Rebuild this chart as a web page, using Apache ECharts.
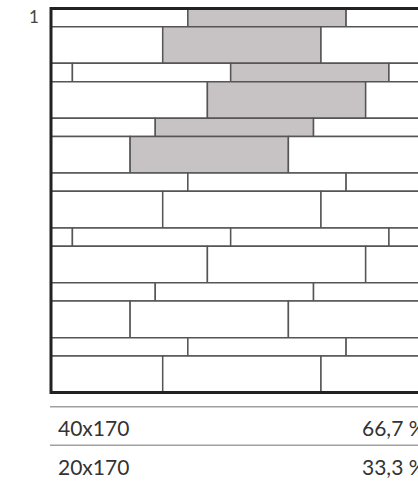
<!DOCTYPE html>
<html>
<head>
<meta charset="utf-8">
<script src="https://cdn.jsdelivr.net/npm/echarts@6/dist/echarts.min.js"></script>
<style>
  html, body { margin: 0; padding: 0; background: #fff; overflow: hidden; }
  #main { width: 460px; height: 483px; }
</style>
</head>
<body>
<div id="main"></div>
<script>
// laying pattern: row heights (mm) and joint positions along each row (mm)
var ROW_HEIGHTS = [20, 40, 20, 40, 20, 40, 20, 40, 20, 40, 20, 40, 20, 40];
var TILE_LENGTH = 170;
var ROW_JOINTS = [
  [147, 317], [120, 290], [23, 193, 363], [168, 338], [112, 282], [85, 255],
  [147, 317], [120, 290], [23, 193, 363], [168, 338], [112, 282], [85, 255],
  [147, 317], [120, 290]
];
// highlighted tiles: [row index, tile start]
var GREY_TILES = [[0, 147], [1, 120], [2, 193], [3, 168], [4, 112], [5, 85]];
var X_MAX = 420;
var PANEL_LABEL = '1';
var FORMATS = ['40x170', '20x170'];
var SHARES = [66.7, 33.3];

var FONT = 'Lato, "Noto Sans", sans-serif';
var totalHeight = ROW_HEIGHTS.reduce(function (a, b) { return a + b; }, 0);

// build the tile list from the rows
var tiles = [];
var y0 = 0;
ROW_HEIGHTS.forEach(function (h, r) {
  var joints = ROW_JOINTS[r];
  var edges = [joints[0] - TILE_LENGTH].concat(joints, [joints[joints.length - 1] + TILE_LENGTH]);
  for (var i = 0; i < edges.length - 1; i++) {
    var s = edges[i], e = edges[i + 1];
    if (e <= 0 || s >= X_MAX) continue;
    var grey = GREY_TILES.some(function (g) { return g[0] === r && g[1] === s; }) ? 1 : 0;
    tiles.push([Math.max(0, s), Math.min(X_MAX, e), y0, y0 + h, grey]);
  }
  y0 += h;
});

function renderTile(params, api) {
  var p1 = api.coord([api.value(0), api.value(2)]);
  var p2 = api.coord([api.value(1), api.value(3)]);
  return {
    type: 'rect',
    shape: {
      x: Math.min(p1[0], p2[0]),
      y: Math.min(p1[1], p2[1]),
      width: Math.abs(p2[0] - p1[0]),
      height: Math.abs(p2[1] - p1[1])
    },
    style: {
      fill: api.value(4) ? '#c7c3c4' : '#ffffff',
      stroke: '#555555',
      lineWidth: 1.5
    }
  };
}

var chart = echarts.init(document.getElementById('main'), null, { renderer: 'svg' });

var tableGraphics = [];
var lineYs = [406.7, 445.3];
FORMATS.forEach(function (f, i) {
  tableGraphics.push({
    type: 'line',
    shape: { x1: 50, y1: lineYs[i], x2: 460, y2: lineYs[i] },
    style: { stroke: '#a0a0a0', lineWidth: 1.5 }
  });
  tableGraphics.push({
    type: 'text',
    x: 58, y: lineYs[i] + 21,
    style: { text: f, font: '21px ' + FONT, fill: '#333', verticalAlign: 'middle' }
  });
  tableGraphics.push({
    type: 'text',
    x: 362, y: lineYs[i] + 21,
    style: { text: SHARES[i].toFixed(1).replace('.', ',') + ' %', font: '21px ' + FONT, fill: '#333', verticalAlign: 'middle' }
  });
});
tableGraphics.push({
  type: 'text',
  x: 29, y: 16,
  style: { text: PANEL_LABEL, font: '17px ' + FONT, fill: '#444', verticalAlign: 'middle' }
});

chart.setOption({
  animation: false,
  grid: {
    show: true,
    left: 51, top: 8.5, right: 18, bottom: 90.5,
    containLabel: false,
    borderColor: '#222',
    borderWidth: 3,
    backgroundColor: 'transparent',
    z: 5
  },
  xAxis: {
    type: 'value', min: 0, max: X_MAX, show: false
  },
  yAxis: {
    type: 'value', min: 0, max: totalHeight, inverse: true, show: false
  },
  graphic: tableGraphics,
  series: [{
    type: 'custom',
    renderItem: renderTile,
    data: tiles,
    clip: true,
    silent: true,
    z: 1
  }]
});
</script>
</body>
</html>
